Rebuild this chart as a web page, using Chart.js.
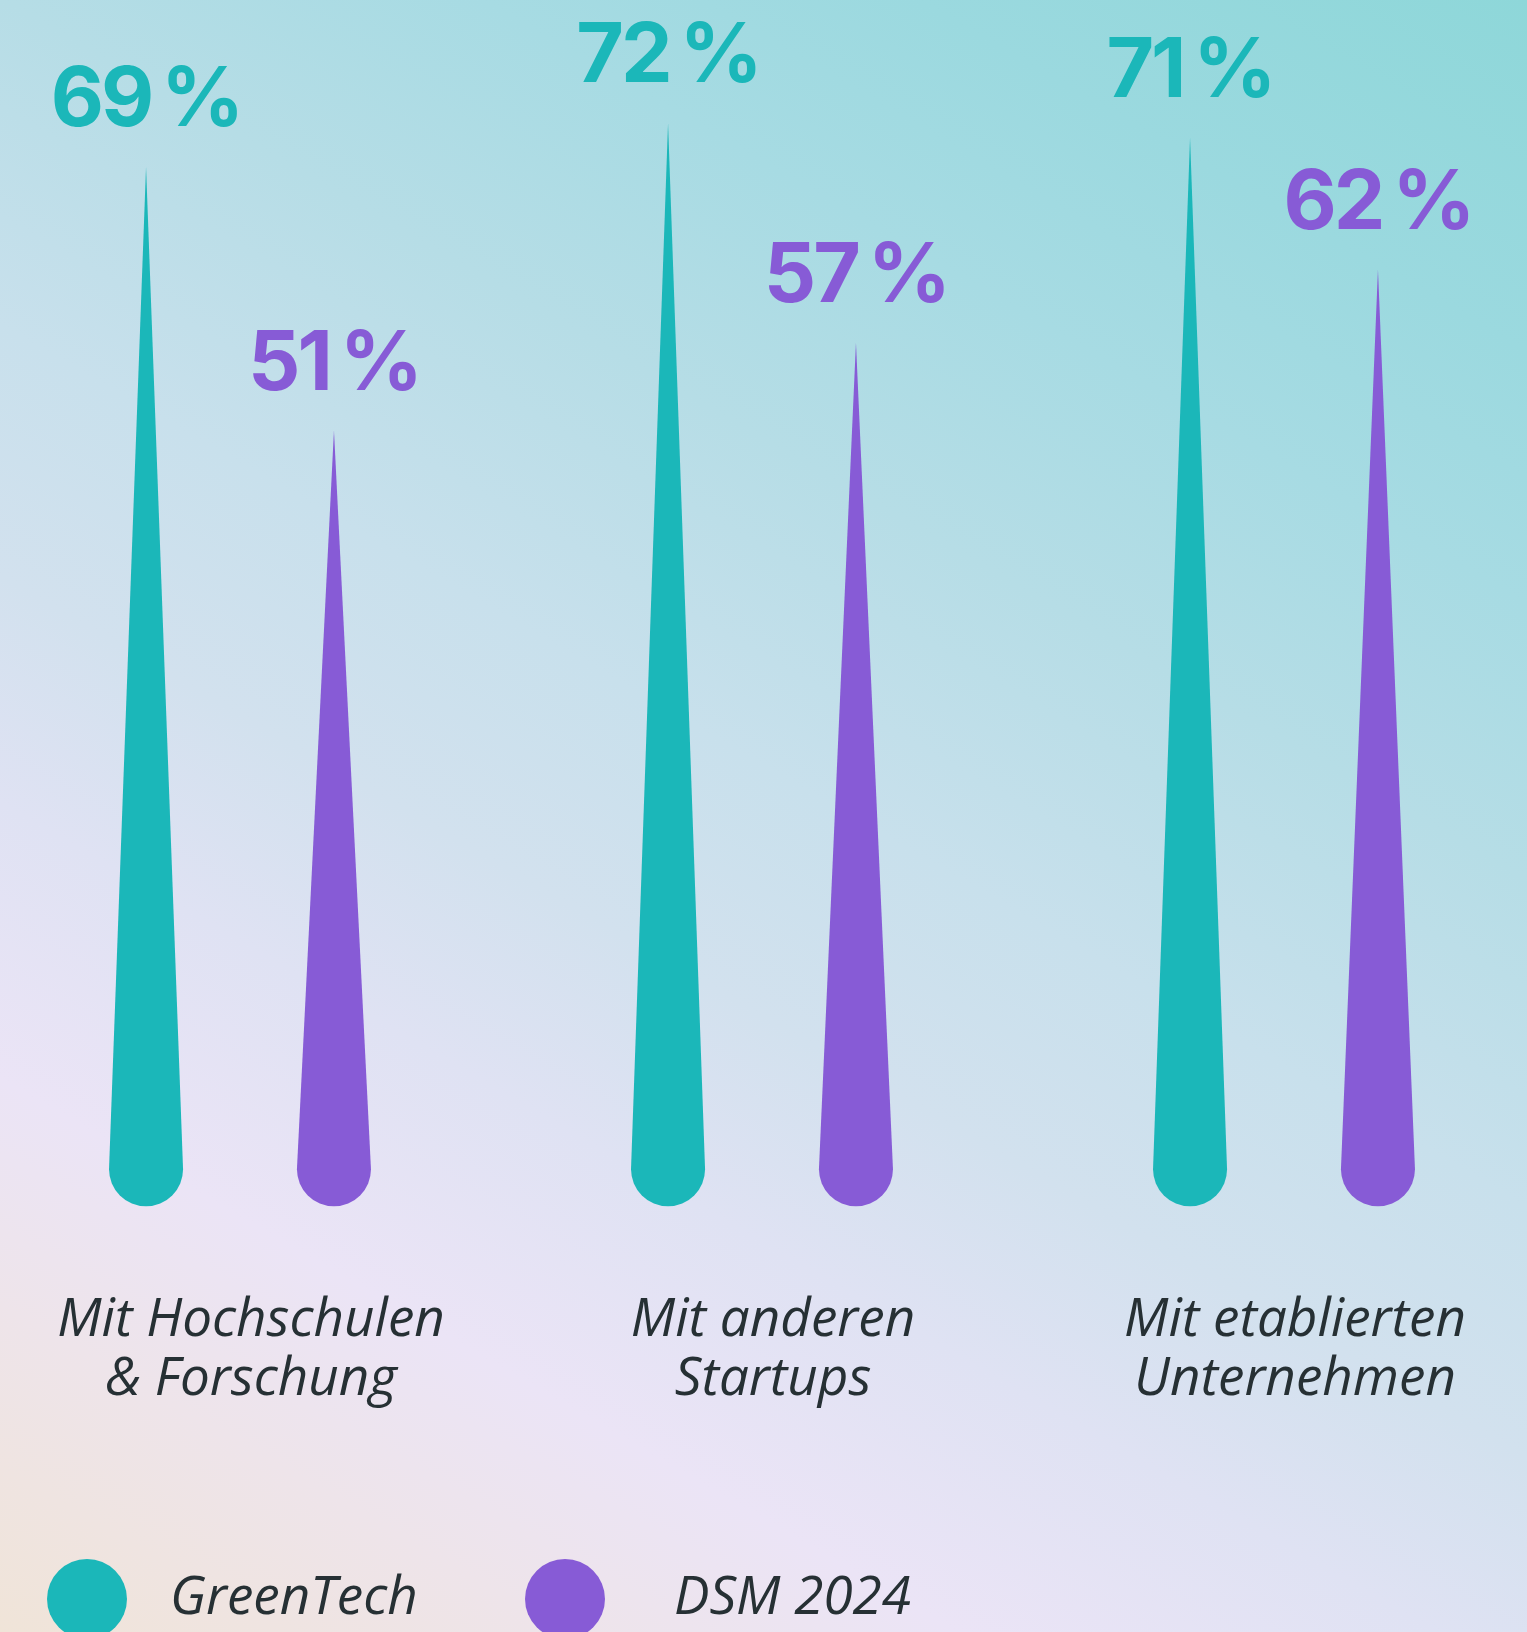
<!DOCTYPE html>
<html lang="de">
<head>
<meta charset="utf-8">
<title>Kooperationen</title>
<script src="https://cdn.jsdelivr.net/npm/chart.js@4.4.0/dist/chart.umd.min.js"></script>
<style>
  html, body {
    margin: 0;
    padding: 0;
    overflow: hidden;
  }
  body {
    width: 1527px;
    height: 1632px;
    background: linear-gradient(30deg,
      #f0e4d8 0%, #eee4ea 13%, #ebe4f6 22%, #dfe2f3 33%, #d2e1ee 42%,
      #c8e0ec 52%, #b6dde6 65%, #a7dbe3 76%, #9bd9df 86%, #8ed7d9 100%);
  }
  #wrap {
    position: relative;
    width: 1527px;
    height: 1632px;
  }
</style>
</head>
<body>
<div id="wrap"><canvas id="coopChart"></canvas></div>
<script>
const categories = [
  ["Mit Hochschulen", "& Forschung"],
  ["Mit anderen", "Startups"],
  ["Mit etablierten", "Unternehmen"]
];
const greenTech = [69, 72, 71];
const dsm2024 = [51, 57, 62];
const seriesNames = ["GreenTech", "DSM 2024"];

const TEAL = "#1bb7b9";
const PURPLE = "#875bd6";
const TEXT = "#263034";
const ITALIC = "'Open Sans', sans-serif";
const BOLD = "Inter, 'Open Sans', sans-serif";

// draws the tapered "drop" instead of the plain rectangle
const spikeBars = {
  id: "spikeBars",
  beforeDatasetDraw(chart, args) {
    const ctx = chart.ctx;
    const ds = chart.data.datasets[args.index];
    ctx.save();
    args.meta.data.forEach((bar, i) => {
      const r = bar.width / 2;
      const cy = bar.base - 8; // cap sits slightly above the zero line
      ctx.beginPath();
      ctx.moveTo(bar.x, bar.y);
      ctx.lineTo(bar.x + r, cy);
      ctx.arc(bar.x, cy, r, 0, Math.PI);
      ctx.closePath();
      ctx.fillStyle = ds.backgroundColor;
      ctx.fill();

      ctx.font = "700 82px " + BOLD;
      ctx.letterSpacing = "-3px";
      ctx.textAlign = "center";
      ctx.textBaseline = "alphabetic";
      ctx.fillText(ds.data[i] + "\u2009%", bar.x, bar.y - 41);
    });
    ctx.restore();
    return false;
  }
};

const dotLegend = {
  id: "dotLegend",
  afterDraw(chart) {
    const ctx = chart.ctx;
    const dotX = [87, 565];
    const textX = [170, 674];
    const y = 1599;
    ctx.save();
    chart.data.datasets.forEach((ds, i) => {
      ctx.beginPath();
      ctx.arc(dotX[i], y, 40, 0, Math.PI * 2);
      ctx.fillStyle = ds.backgroundColor;
      ctx.fill();
      ctx.font = "italic 400 53px " + ITALIC;
      ctx.fillStyle = TEXT;
      ctx.textAlign = "left";
      ctx.textBaseline = "alphabetic";
      ctx.fillText(ds.label, textX[i], 1614);
    });
    ctx.restore();
  }
};

new Chart(document.getElementById("coopChart"), {
  type: "bar",
  data: {
    labels: categories,
    datasets: [
      { label: seriesNames[0], data: greenTech, backgroundColor: TEAL },
      { label: seriesNames[1], data: dsm2024, backgroundColor: PURPLE }
    ]
  },
  options: {
    responsive: true,
    maintainAspectRatio: false,
    animation: false,
    categoryPercentage: 0.72,
    barPercentage: 0.394,
    layout: { padding: { top: 6, left: 240, right: 243, bottom: 223 } },
    plugins: {
      legend: { display: false },
      tooltip: { enabled: false }
    },
    scales: {
      x: {
        offset: false,
        // tick marks stay hidden, their length only spaces the labels down
        grid: { display: false, drawTicks: true, tickLength: 114 },
        border: { display: false },
        ticks: {
          autoSkip: false,
          maxRotation: 0,
          minRotation: 0,
          padding: 0,
          labelOffset: 11,
          color: TEXT,
          font: { family: ITALIC, size: 53, style: "italic", lineHeight: 1.11 }
        }
      },
      y: {
        display: false,
        min: 0,
        max: 80
      }
    }
  },
  plugins: [spikeBars, dotLegend]
});
</script>
</body>
</html>
